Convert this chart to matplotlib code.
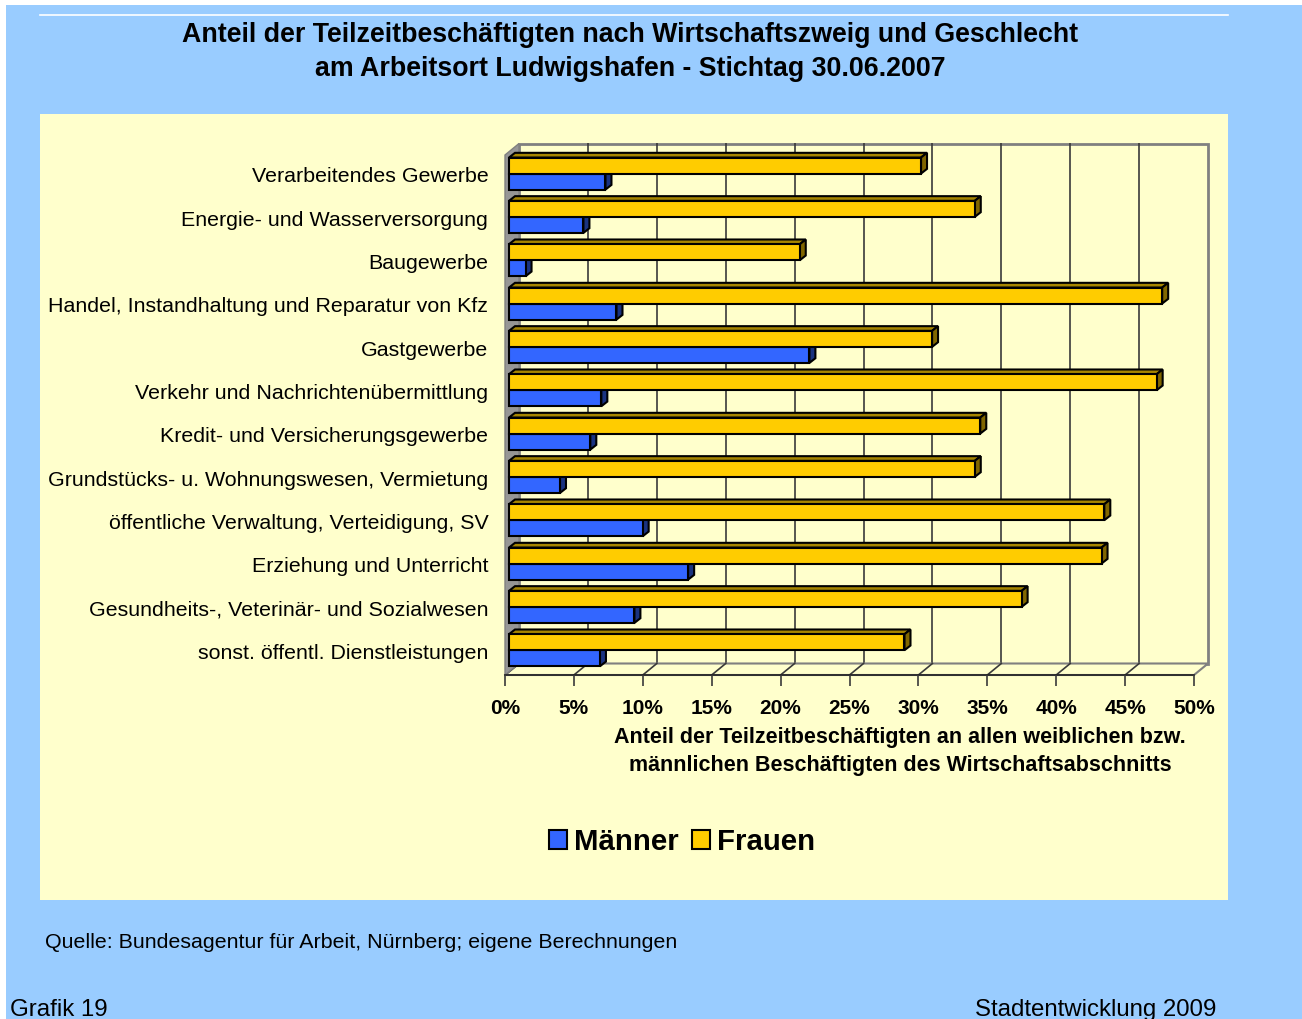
import matplotlib
matplotlib.use("Agg")
import matplotlib.pyplot as plt
from matplotlib.patches import Rectangle, Polygon
from matplotlib.transforms import offset_copy, ScaledTranslation

plt.rcParams["font.family"] = ["Liberation Sans", "DejaVu Sans"]

categories = [
    "Verarbeitendes Gewerbe",
    "Energie- und Wasserversorgung",
    "Baugewerbe",
    "Handel, Instandhaltung und Reparatur von Kfz",
    "Gastgewerbe",
    "Verkehr und Nachrichtenübermittlung",
    "Kredit- und Versicherungsgewerbe",
    "Grundstücks- u. Wohnungswesen, Vermietung",
    "öffentliche Verwaltung, Verteidigung, SV",
    "Erziehung und Unterricht",
    "Gesundheits-, Veterinär- und Sozialwesen",
    "sonst. öffentl. Dienstleistungen",
]
maenner = [7.0, 5.4, 1.2, 7.8, 21.8, 6.7, 5.9, 3.7, 9.7, 13.0, 9.1, 6.6]
frauen = [29.9, 33.8, 21.1, 47.4, 30.7, 47.0, 34.2, 33.8, 43.2, 43.0, 37.2, 28.7]
ticks = [0, 5, 10, 15, 20, 25, 30, 35, 40, 45, 50]
tick_labels = [f"{t}%" for t in ticks]

W, H = 1302, 1019
fig = plt.figure(figsize=(W / 100, H / 100), dpi=100, facecolor="white")


def fx(x):
    return x / W


def fy(y):
    return 1 - y / H


# background panels
fig.patches.append(Rectangle((fx(6), 0), 1 - fx(6), fy(5), transform=fig.transFigure,
                             facecolor="#99CCFF", edgecolor="none", zorder=-3))
fig.patches.append(Rectangle((fx(40), fy(900)), fx(1228) - fx(40), fy(114) - fy(900),
                             transform=fig.transFigure, facecolor="#FFFFCC",
                             edgecolor="none", zorder=-2))
fig.lines.append(plt.Line2D([fx(40), fx(1228)], [fy(15), fy(15)], transform=fig.transFigure,
                            color="white", lw=1.2))

fig.text(fx(630), fy(35), "Anteil der Teilzeitbeschäftigten nach Wirtschaftszweig und Geschlecht",
         ha="center", va="center", fontsize=19.3, fontweight="bold")
fig.text(fx(630), fy(69), "am Arbeitsort Ludwigshafen - Stichtag 30.06.2007",
         ha="center", va="center", fontsize=19.3, fontweight="bold")

# main axes = front plane of the 3D box
left, right, top, bottom = 505, 1194, 155, 675
ax = fig.add_axes([fx(left), fy(bottom), fx(right) - fx(left), fy(top) - fy(bottom)])
ax.set_facecolor("none")
n = len(categories)
ax.set_xlim(0, 50)
ax.set_ylim(n - 0.5, -0.5)

xpp = 50 / (right - left)
ypp = n / (bottom - top)
dx_w, dy_w = 14, 11.5  # wall depth in px
grid_c = "#3a3a3a"

wall_tr = offset_copy(ax.transData, fig=fig, x=dx_w, y=dy_w, units="dots")
ax.add_patch(Rectangle((0, -0.5), 50, n, transform=wall_tr, facecolor="#FFFFCC",
                       edgecolor="#808080", lw=2, clip_on=False, zorder=0))
ax.vlines(ticks[1:-1], -0.5, n - 0.5, transform=wall_tr, color=grid_c, lw=1.2,
          clip_on=False, zorder=0.5)

# floor
y0 = n - 0.5
ax.add_patch(Polygon([(0, y0), (50, y0), (50 + dx_w * xpp, y0 - dy_w * ypp),
                      (dx_w * xpp, y0 - dy_w * ypp)], closed=True, facecolor="#FFFFCC",
                     edgecolor="#808080", lw=1.5, clip_on=False, zorder=0.6))
for t in ticks[:-1]:
    ax.plot([t, t + dx_w * xpp], [y0, y0 - dy_w * ypp], color=grid_c, lw=1.2,
            clip_on=False, zorder=0.7)
# left wall
ax.add_patch(Polygon([(0, -0.5), (0, y0), (dx_w * xpp, y0 - dy_w * ypp),
                      (dx_w * xpp, -0.5 - dy_w * ypp)], closed=True, facecolor="#969696",
                     edgecolor="#808080", lw=1, clip_on=False, zorder=0.8))

# bars
bar_tr = offset_copy(ax.transData, fig=fig, x=4, y=3.1, units="dots")
bh = 0.37
ddx, ddy = 6 * xpp, 4.7 * ypp


def draw_bars(values, ypos, front, side, topc, z):
    for v, yc in zip(values, ypos):
        yt, yb = yc - bh / 2, yc + bh / 2
        ax.add_patch(Polygon([(0, yt), (ddx, yt - ddy), (v + ddx, yt - ddy), (v, yt)],
                             closed=True, transform=bar_tr, facecolor=topc,
                             edgecolor="black", lw=1.5, clip_on=False, zorder=z))
        ax.add_patch(Polygon([(v, yt), (v + ddx, yt - ddy), (v + ddx, yb - ddy), (v, yb)],
                             closed=True, transform=bar_tr, facecolor=side,
                             edgecolor="black", lw=1.5, clip_on=False, zorder=z))
    return ax.barh(ypos, values, height=bh, color=front, edgecolor="black", lw=1.5,
                   transform=bar_tr, clip_on=False, zorder=z + 0.1)


ys = list(range(n))
bm = draw_bars(maenner, [y + bh / 2 for y in ys], "#3366FF", "#1A3380", "#2952CC", 2)
bf = draw_bars(frauen, [y - bh / 2 for y in ys], "#FFCC00", "#806600", "#A68500", 3)

# axes styling
for s in ["top", "right", "left"]:
    ax.spines[s].set_visible(False)
ax.spines["bottom"].set_color("#222222")
ax.spines["bottom"].set_linewidth(1.2)
ax.spines["bottom"].set_zorder(1)
ax.set_xticks(ticks, tick_labels, fontsize=15, fontweight="bold")
ax.tick_params(axis="x", direction="out", length=8, width=1.2, color=grid_c, pad=9.5)
ax.set_yticks(ys, categories, fontsize=15.4)
ax.tick_params(axis="y", length=0, pad=12)
lift = ScaledTranslation(0, 2 / 100, fig.dpi_scale_trans)
for lab in ax.get_yticklabels():
    lab.set_transform(lab.get_transform() + lift)

fig.text(fx(900), fy(737), "Anteil der Teilzeitbeschäftigten an allen weiblichen bzw.",
         ha="center", va="center", fontsize=15.5, fontweight="bold")
fig.text(fx(900), fy(765), "männlichen Beschäftigten des Wirtschaftsabschnitts",
         ha="center", va="center", fontsize=15.5, fontweight="bold")

fig.legend([bm, bf], ["Männer", "Frauen"], loc="center", bbox_to_anchor=(fx(682), fy(842)),
           ncol=2, frameon=False, prop={"weight": "bold", "size": 21.2},
           handlelength=0.6, handleheight=0.6, handletextpad=0.25, columnspacing=0.45)

fig.text(fx(45), fy(942), "Quelle: Bundesagentur für Arbeit, Nürnberg; eigene Berechnungen",
         ha="left", va="center", fontsize=15.4)
fig.text(fx(10), fy(1010), "Grafik 19", ha="left", va="center", fontsize=17.3)
fig.text(fx(1216), fy(1010), "Stadtentwicklung 2009", ha="right", va="center", fontsize=17.3)

fig.savefig("out.png", dpi=100, facecolor=fig.get_facecolor())
